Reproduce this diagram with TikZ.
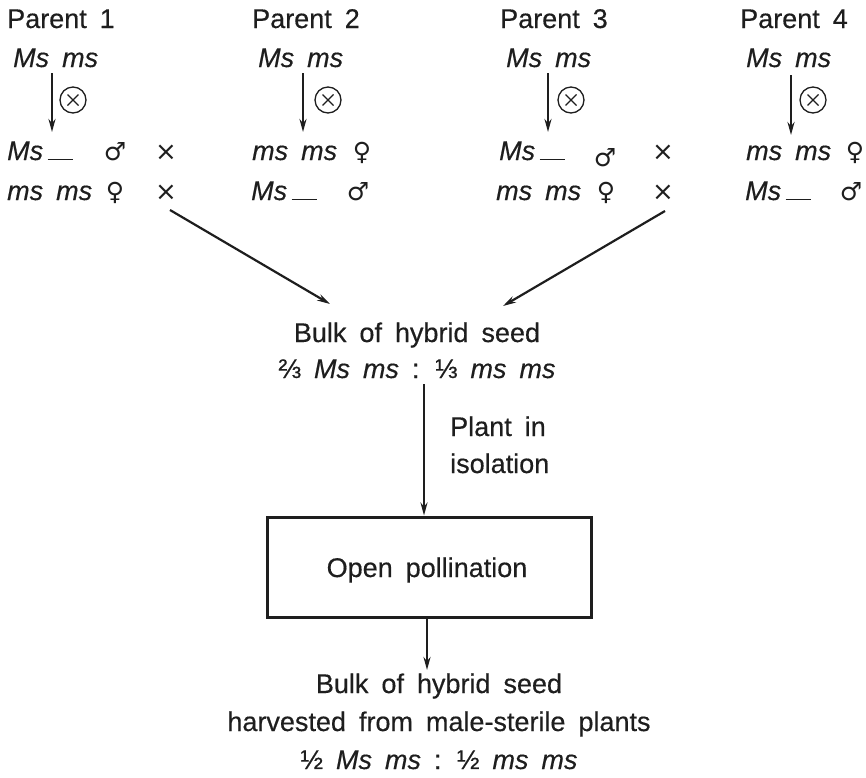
\documentclass[tikz,border=0pt]{standalone}
\usepackage{fontspec}
\setmainfont[FakeBold=0.4]{Liberation Sans}
\newfontfamily\symfont{DejaVu Sans}
\usetikzlibrary{arrows.meta}
\definecolor{ink}{RGB}{30,30,30}
\newcommand\blankline{\,\rule[0pt]{25pt}{1.3pt}}
\newcommand\mainsize{\fontsize{27}{30}\selectfont\spaceskip 13pt plus 2pt minus 1pt\relax}
\begin{document}
\begin{tikzpicture}[x=1pt,y=-1pt,
  font=\mainsize,
  txt/.style={inner sep=0pt, anchor=base west, text=ink},
  ctxt/.style={inner sep=0pt, anchor=base, text=ink},
  sym/.style={inner sep=0pt, anchor=base, text=ink, font=\symfont\fontsize{25}{25}\selectfont},
  crs/.style={inner sep=0pt, anchor=center, text=ink, font=\symfont\fontsize{26}{26}\selectfont},
  arr/.style={draw=ink, line width=2.2pt, -{Stealth[length=13pt,width=7pt]}},
  selfing/.style={circle, draw=ink, line width=1.3pt, minimum size=26pt, inner sep=0pt,
    path picture={\draw[ink, line width=1.3pt]
      ([shift={(-5.5pt,-5.5pt)}]path picture bounding box.center) -- ([shift={(5.5pt,5.5pt)}]path picture bounding box.center)
      ([shift={(-5.5pt,5.5pt)}]path picture bounding box.center) -- ([shift={(5.5pt,-5.5pt)}]path picture bounding box.center);}},
  boxst/.style={draw=ink, line width=3pt, minimum width=324pt, minimum height=100pt, inner sep=0pt, text=ink}
]
\useasboundingbox (0,0) rectangle (866,777);

% ---------- Parent 1
\node[txt] (p1) at (7,28) {Parent 1};
\node[txt] (p1g) at (13,67) {\textit{Ms ms}};
\coordinate (p1a) at (52,73); \coordinate (p1b) at (52,132);
\draw[arr] (p1a) -- (p1b);
\node[selfing] (p1s) at (73,100) {};
\node[txt] (p1r1) at (7,160) {\textit{Ms}\blankline};
\node[sym] (p1m) at (115,160) {♂};
\node[crs] (p1x1) at (166,153) {×};
\node[txt] (p1r2) at (7,200) {\textit{ms ms}};
\node[sym] (p1f) at (115,200) {♀};
\node[crs] (p1x2) at (166,193) {×};

% ---------- Parent 2
\node[txt] (p2) at (252,28) {Parent 2};
\node[txt] (p2g) at (258,67) {\textit{Ms ms}};
\coordinate (p2a) at (303,73); \coordinate (p2b) at (303,132);
\draw[arr] (p2a) -- (p2b);
\node[selfing] (p2s) at (328,100) {};
\node[txt] (p2r1) at (252,160) {\textit{ms ms}};
\node[sym] (p2f) at (362,160) {♀};
\node[txt] (p2r2) at (251,200) {\textit{Ms}\blankline};
\node[sym] (p2m) at (358,200) {♂};

% ---------- Parent 3
\node[txt] (p3) at (500,28) {Parent 3};
\node[txt] (p3g) at (506,67) {\textit{Ms ms}};
\coordinate (p3a) at (548,73); \coordinate (p3b) at (548,132);
\draw[arr] (p3a) -- (p3b);
\node[selfing] (p3s) at (571,100) {};
\node[txt] (p3r1) at (499,160) {\textit{Ms}\blankline};
\node[sym] (p3m) at (605,166) {♂};
\node[crs] (p3x1) at (663,153) {×};
\node[txt] (p3r2) at (496,200) {\textit{ms ms}};
\node[sym] (p3f) at (606,200) {♀};
\node[crs] (p3x2) at (663,193) {×};

% ---------- Parent 4
\node[txt] (p4) at (740,28) {Parent 4};
\node[txt] (p4g) at (746,67) {\textit{Ms ms}};
\coordinate (p4a) at (791,75); \coordinate (p4b) at (791,135);
\draw[arr] (p4a) -- (p4b);
\node[selfing] (p4s) at (813,100) {};
\node[txt] (p4r1) at (746,160) {\textit{ms ms}};
\node[sym] (p4f) at (855,160) {♀};
\node[txt] (p4r2) at (745,200) {\textit{Ms}\blankline};
\node[sym] (p4m) at (851,200) {♂};

% ---------- bulk 1
\node[ctxt] (bulk1) at (417,342) {Bulk of hybrid seed};
\node[ctxt] (ratio1) at (417,378) {⅔ \textit{Ms ms} : ⅓ \textit{ms ms}};
\coordinate (d1a) at (170,210); \coordinate (d1b) at (330,304);
\coordinate (d2a) at (665,211); \coordinate (d2b) at (503,306);
\draw[arr] (d1a) -- (d1b);
\draw[arr] (d2a) -- (d2b);

% ---------- isolation
\node[boxst] (box) at (429,567) {};
\node[ctxt] (op) at (427,577) {Open pollination};
\coordinate (v1) at (424,384);
\draw[arr] (v1) -- (v1 |- box.north);
\node[txt] (pl1) at (450,436) {Plant in};
\node[txt] (pl2) at (450,473) {isolation};

% ---------- bulk 2
\coordinate (v2) at (427,670);
\draw[arr] (v2 |- box.south) -- (v2);
\node[ctxt] (bulk2) at (439,693) {Bulk of hybrid seed};
\node[ctxt] (harv) at (439,731) {harvested from male-sterile plants};
\node[ctxt] (ratio2) at (439,769) {½ \textit{Ms ms} : ½ \textit{ms ms}};
\end{tikzpicture}
\end{document}
